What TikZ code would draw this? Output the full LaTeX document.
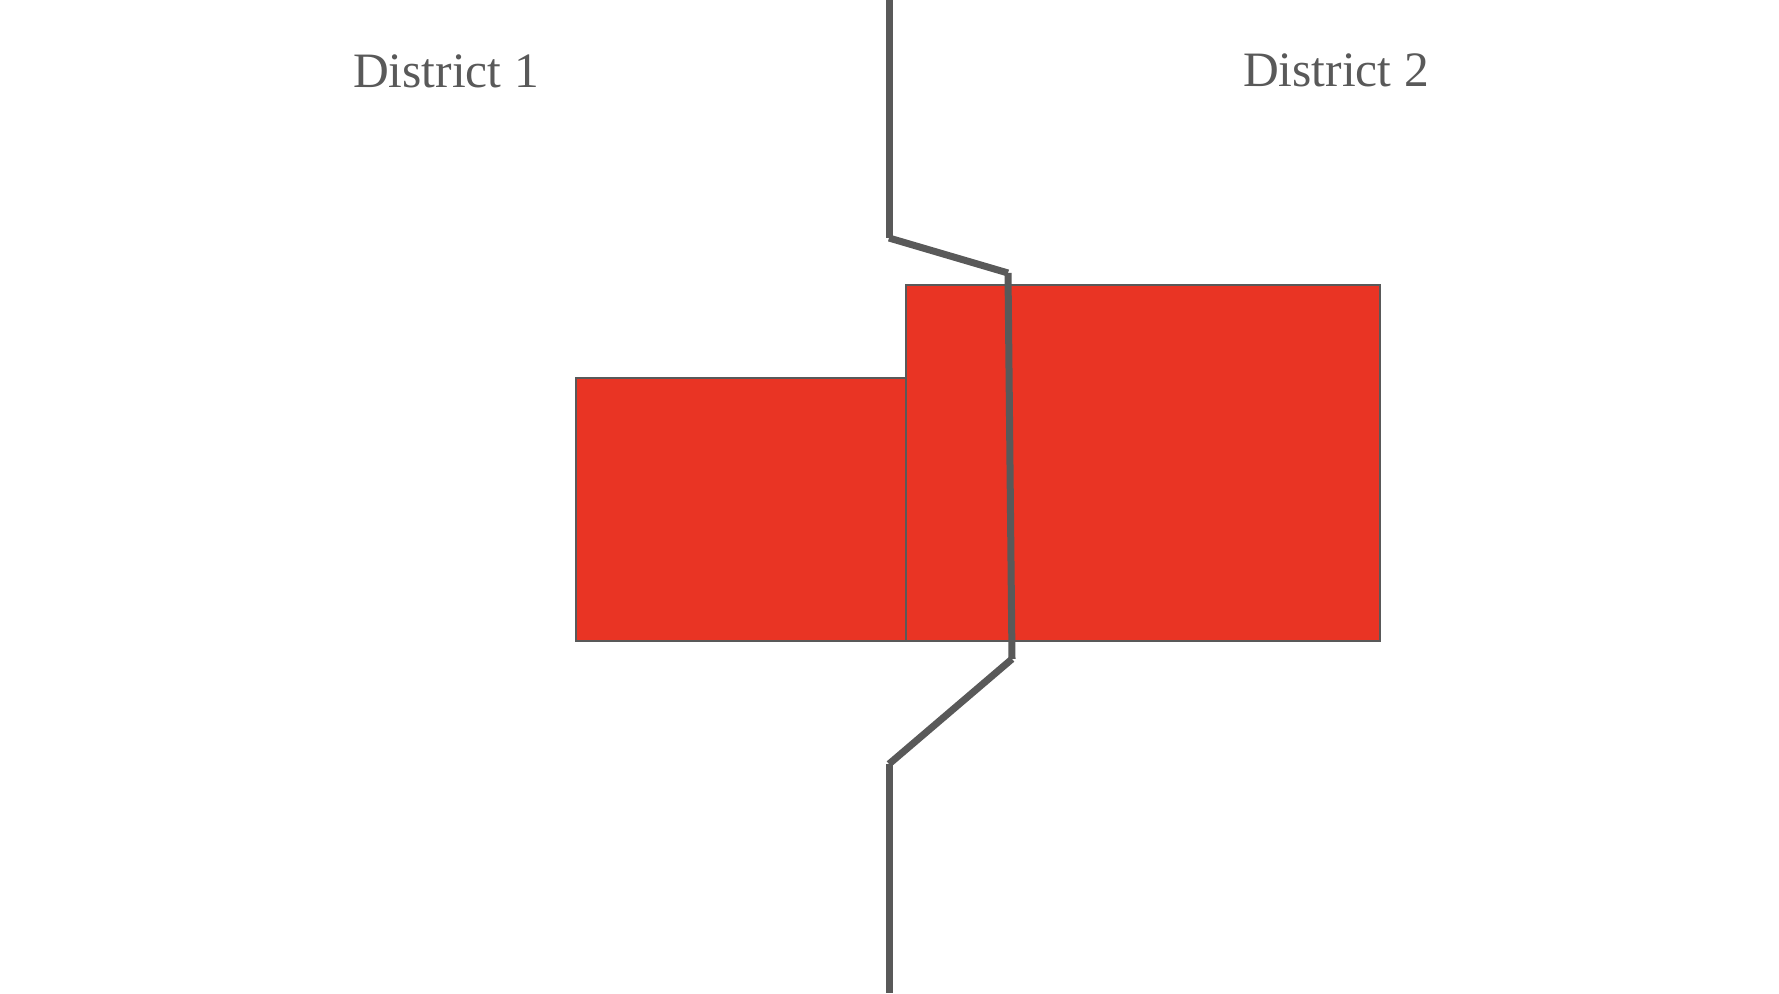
\documentclass[tikz,border=0pt]{standalone}
\usepackage{fontspec}
\setmainfont{Liberation Serif}
\definecolor{inkgray}{HTML}{595959}
\definecolor{blockred}{HTML}{E93424}
\begin{document}
\begin{tikzpicture}[x=1pt,y=-1pt,
  block/.style={fill=blockred,draw=inkgray,line width=2pt},
  border/.style={draw=inkgray,line width=7pt,line cap=butt},
  label/.style={text=inkgray,font=\fontsize{49.5}{52}\selectfont,anchor=base,inner sep=0pt}]
\useasboundingbox (0,0) rectangle (1779,993);
\fill[white] (0,0) rectangle (1779,993);
\draw[block] (576,378) rectangle (906,641);
\draw[block] (906,285) rectangle (1380,641);
\coordinate (p0) at (889,0);
\coordinate (p1) at (889,238);
\coordinate (p2) at (1008,273);
\coordinate (p3) at (1012,659);
\coordinate (p4) at (889,764);
\coordinate (p5) at (889,993);
\draw[border] (p0) -- (p1);
\draw[border] (p1) -- (p2);
\draw[border] (p2) -- (p3);
\draw[border] (p3) -- (p4);
\draw[border] (p4) -- (p5);
\node[label] (d1) at (446,87) {District 1};
\node[label] (d2) at (1336,86) {District 2};
\end{tikzpicture}
\end{document}
